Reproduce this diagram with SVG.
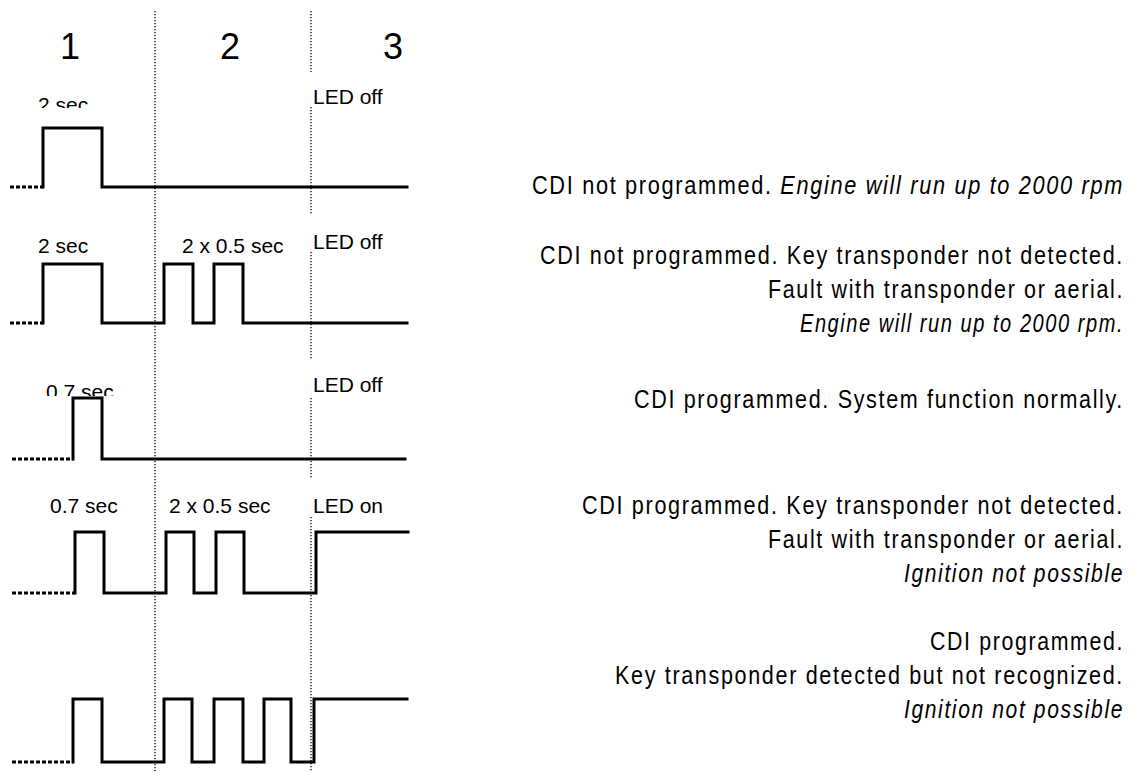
<svg xmlns="http://www.w3.org/2000/svg" width="1133" height="772" viewBox="0 0 1133 772">
<defs>
<style>
.sig{fill:none;stroke:#000;stroke-width:3;stroke-linejoin:miter;stroke-linecap:square}
.pre{fill:none;stroke:#000;stroke-width:3;stroke-dasharray:4 2}
.grid{fill:none;stroke:#000;stroke-width:1.3;stroke-dasharray:1.3 1.7}
.num{font-family:"Liberation Sans",Arial,sans-serif;font-size:36px;fill:#000;text-anchor:middle}
.lbl{font-family:"Liberation Sans",Arial,sans-serif;font-size:21px;fill:#000}
.desc{font-family:"Liberation Sans",Arial,sans-serif;font-size:26px;letter-spacing:2px;fill:#000;text-anchor:end}
.it{font-style:italic}
</style>
<clipPath id="c1"><rect x="0" y="80" width="140" height="28"/></clipPath>
<clipPath id="c3"><rect x="0" y="370" width="140" height="26"/></clipPath>
</defs>
<g id="grid">
<path class="grid" d="M155 11V772"/>
<path class="grid" d="M311 11V72M311 107V215M311 252V360M311 398V478M311 517V772"/>
</g>
<g id="headers">
<text class="num" x="70" y="59">1</text>
<text class="num" x="230" y="59">2</text>
<text class="num" x="393" y="59">3</text>
</g>
<g id="row1">
<path class="pre" d="M10 187H43"/>
<path class="sig" d="M43 187V128H102V187H407"/>
<text class="lbl" x="38" y="112" clip-path="url(#c1)">2 sec</text>
<text class="lbl" x="313" y="104">LED off</text>
<text class="desc" x="1124" y="194" textLength="592" lengthAdjust="spacingAndGlyphs">CDI not programmed. <tspan class="it">Engine will run up to 2000 rpm</tspan></text>
</g>
<g id="row2">
<path class="pre" d="M10 323H43"/>
<path class="sig" d="M43 323V264H102V323H164V264H193V323H214V264H243V323H407"/>
<text class="lbl" x="38" y="253">2 sec</text>
<text class="lbl" x="182" y="253">2 x 0.5 sec</text>
<text class="lbl" x="313" y="249">LED off</text>
<text class="desc" x="1124" y="264" textLength="584" lengthAdjust="spacingAndGlyphs">CDI not programmed. Key transponder not detected.</text>
<text class="desc" x="1124" y="298" textLength="356" lengthAdjust="spacingAndGlyphs">Fault with transponder or aerial.</text>
<text class="desc it" x="1124" y="332" textLength="324" lengthAdjust="spacingAndGlyphs">Engine will run up to 2000 rpm.</text>
</g>
<g id="row3">
<path class="pre" d="M12 459H73"/>
<path class="sig" d="M73 459V398H102V459H405"/>
<text class="lbl" x="46" y="399" clip-path="url(#c3)">0.7 sec</text>
<text class="lbl" x="313" y="392">LED off</text>
<text class="desc" x="1124" y="408" textLength="490" lengthAdjust="spacingAndGlyphs">CDI programmed. System function normally.</text>
</g>
<g id="row4">
<path class="pre" d="M12 593H75"/>
<path class="sig" d="M75 593V532H104V593H166V532H194V593H216V532H244V593H316V532H408"/>
<text class="lbl" x="50" y="513">0.7 sec</text>
<text class="lbl" x="169" y="513">2 x 0.5 sec</text>
<text class="lbl" x="313" y="513">LED on</text>
<text class="desc" x="1124" y="514" textLength="542" lengthAdjust="spacingAndGlyphs">CDI programmed. Key transponder not detected.</text>
<text class="desc" x="1124" y="548" textLength="356" lengthAdjust="spacingAndGlyphs">Fault with transponder or aerial.</text>
<text class="desc it" x="1124" y="582" textLength="220" lengthAdjust="spacingAndGlyphs">Ignition not possible</text>
</g>
<g id="row5">
<path class="pre" d="M12 762H73"/>
<path class="sig" d="M73 762V699H102V762H164V699H192V762H214V699H243V762H264V699H291V762H314V699H407"/>
<text class="desc" x="1124" y="650" textLength="194" lengthAdjust="spacingAndGlyphs">CDI programmed.</text>
<text class="desc" x="1124" y="684" textLength="509" lengthAdjust="spacingAndGlyphs">Key transponder detected but not recognized.</text>
<text class="desc it" x="1124" y="718" textLength="220" lengthAdjust="spacingAndGlyphs">Ignition not possible</text>
</g>
</svg>
